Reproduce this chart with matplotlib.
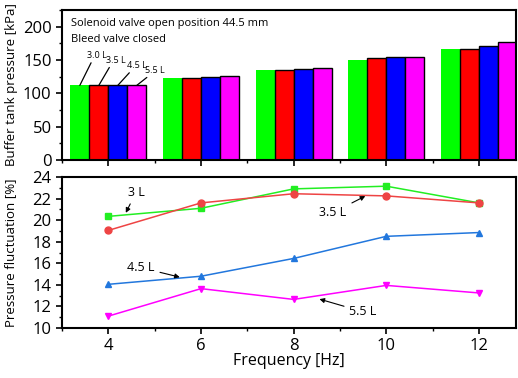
import numpy as np
import matplotlib.pyplot as plt
from matplotlib.ticker import MultipleLocator

plt.rcParams['font.family'] = ['Open Sans', 'DejaVu Sans']

freq = [4, 6, 8, 10, 12]
volumes = ['3.0 L', '3.5 L', '4.5 L', '5.5 L']
tank_30 = [113, 123, 135, 150, 166]
tank_35 = [113, 123, 135, 153, 167]
tank_45 = [113, 125, 136.5, 154, 171]
tank_55 = [113, 126, 138, 155, 177]

fluct_30 = [20.35, 21.1, 22.9, 23.15, 21.6]
fluct_35 = [19.05, 21.6, 22.45, 22.25, 21.6]
fluct_45 = [14.05, 14.8, 16.45, 18.5, 18.85]
fluct_55 = [11.1, 13.65, 12.65, 13.95, 13.25]

bar_colors = ['#00ff00', '#ff0000', '#0000ff', '#ff00ff']
line_colors = ['#22ee22', '#ee4444', '#2277dd', '#ff00ff']

fig = plt.figure(figsize=(5.18, 3.78), dpi=100)
ax1 = fig.add_axes([0.1197, 0.5767, 0.8765, 0.3968])
ax2 = fig.add_axes([0.1197, 0.1323, 0.8765, 0.3994])

# top panel: bars
w = 0.41
x = np.array(freq)
for i, vals in enumerate([tank_30, tank_35, tank_45, tank_55]):
    ec = 'none' if i == 0 else 'black'
    ax1.bar(x + (i - 1.5) * w, vals, w, color=bar_colors[i], edgecolor=ec, linewidth=1)
ax1.set_xlim(3.0, 12.8)
ax1.set_ylim(0, 225)
ax1.yaxis.set_major_locator(MultipleLocator(50))
ax1.yaxis.set_minor_locator(MultipleLocator(25))
ax1.xaxis.set_major_locator(MultipleLocator(2))
ax1.xaxis.set_minor_locator(MultipleLocator(1))
ax1.set_xticklabels([])
ax1.set_ylabel('Buffer tank pressure [kPa]', fontsize=9.5)
ax1.text(3.2, 205, 'Solenoid valve open position 44.5 mm', fontsize=8, va='center')
ax1.text(3.2, 181, 'Bleed valve closed', fontsize=8, va='center')
lab_pos = [(3.55, 150), (3.95, 143), (4.4, 135), (4.8, 128)]
for i, lab in enumerate(volumes):
    bx = x[0] + (i - 1.5) * w
    tx, ty = lab_pos[i]
    ax1.annotate(lab, xy=(bx, tank_30[0] - 1), xytext=(tx, ty), fontsize=6.5,
                 ha='left', va='bottom',
                 arrowprops=dict(arrowstyle='-', color='black', lw=0.9,
                                 shrinkA=0, shrinkB=0, relpos=(0.25, 0)))

# bottom panel: lines
markers = ['s', 'o', '^', 'v']
for i, vals in enumerate([fluct_30, fluct_35, fluct_45, fluct_55]):
    ax2.plot(freq, vals, color=line_colors[i], marker=markers[i], markersize=5, lw=1.1)
ax2.set_xlim(3.0, 12.8)
ax2.set_ylim(10, 24)
ax2.yaxis.set_major_locator(MultipleLocator(2))
ax2.yaxis.set_minor_locator(MultipleLocator(1))
ax2.xaxis.set_major_locator(MultipleLocator(2))
ax2.xaxis.set_minor_locator(MultipleLocator(1))
ax2.set_xlabel('Frequency [Hz]', fontsize=11.5, labelpad=-1)
ax2.set_ylabel('Pressure fluctuation [%]', fontsize=9.5)

arr = dict(arrowstyle='-|>', color='black', lw=0.8, mutation_scale=7)
ax2.annotate('3 L', xy=(4.35, 20.45), xytext=(4.6, 22.6), fontsize=9, ha='center', va='center', arrowprops=arr)
ax2.annotate('3.5 L', xy=(9.6, 22.35), xytext=(8.85, 20.7), fontsize=9, ha='center', va='center', arrowprops=arr)
ax2.annotate('4.5 L', xy=(5.6, 14.65), xytext=(4.7, 15.6), fontsize=9, ha='center', va='center', arrowprops=arr)
ax2.annotate('5.5 L', xy=(8.5, 12.75), xytext=(9.5, 11.5), fontsize=9, ha='center', va='center', arrowprops=arr)

for ax in (ax1, ax2):
    for s in ax.spines.values():
        s.set_linewidth(1.5)
    ax.tick_params(which='major', direction='out', length=4, width=1.2, labelsize=12)
    ax.tick_params(which='minor', direction='out', length=2, width=1)
    ax.yaxis.set_label_coords(-0.098, 0.5)

fig.savefig('out.png', dpi=100)
